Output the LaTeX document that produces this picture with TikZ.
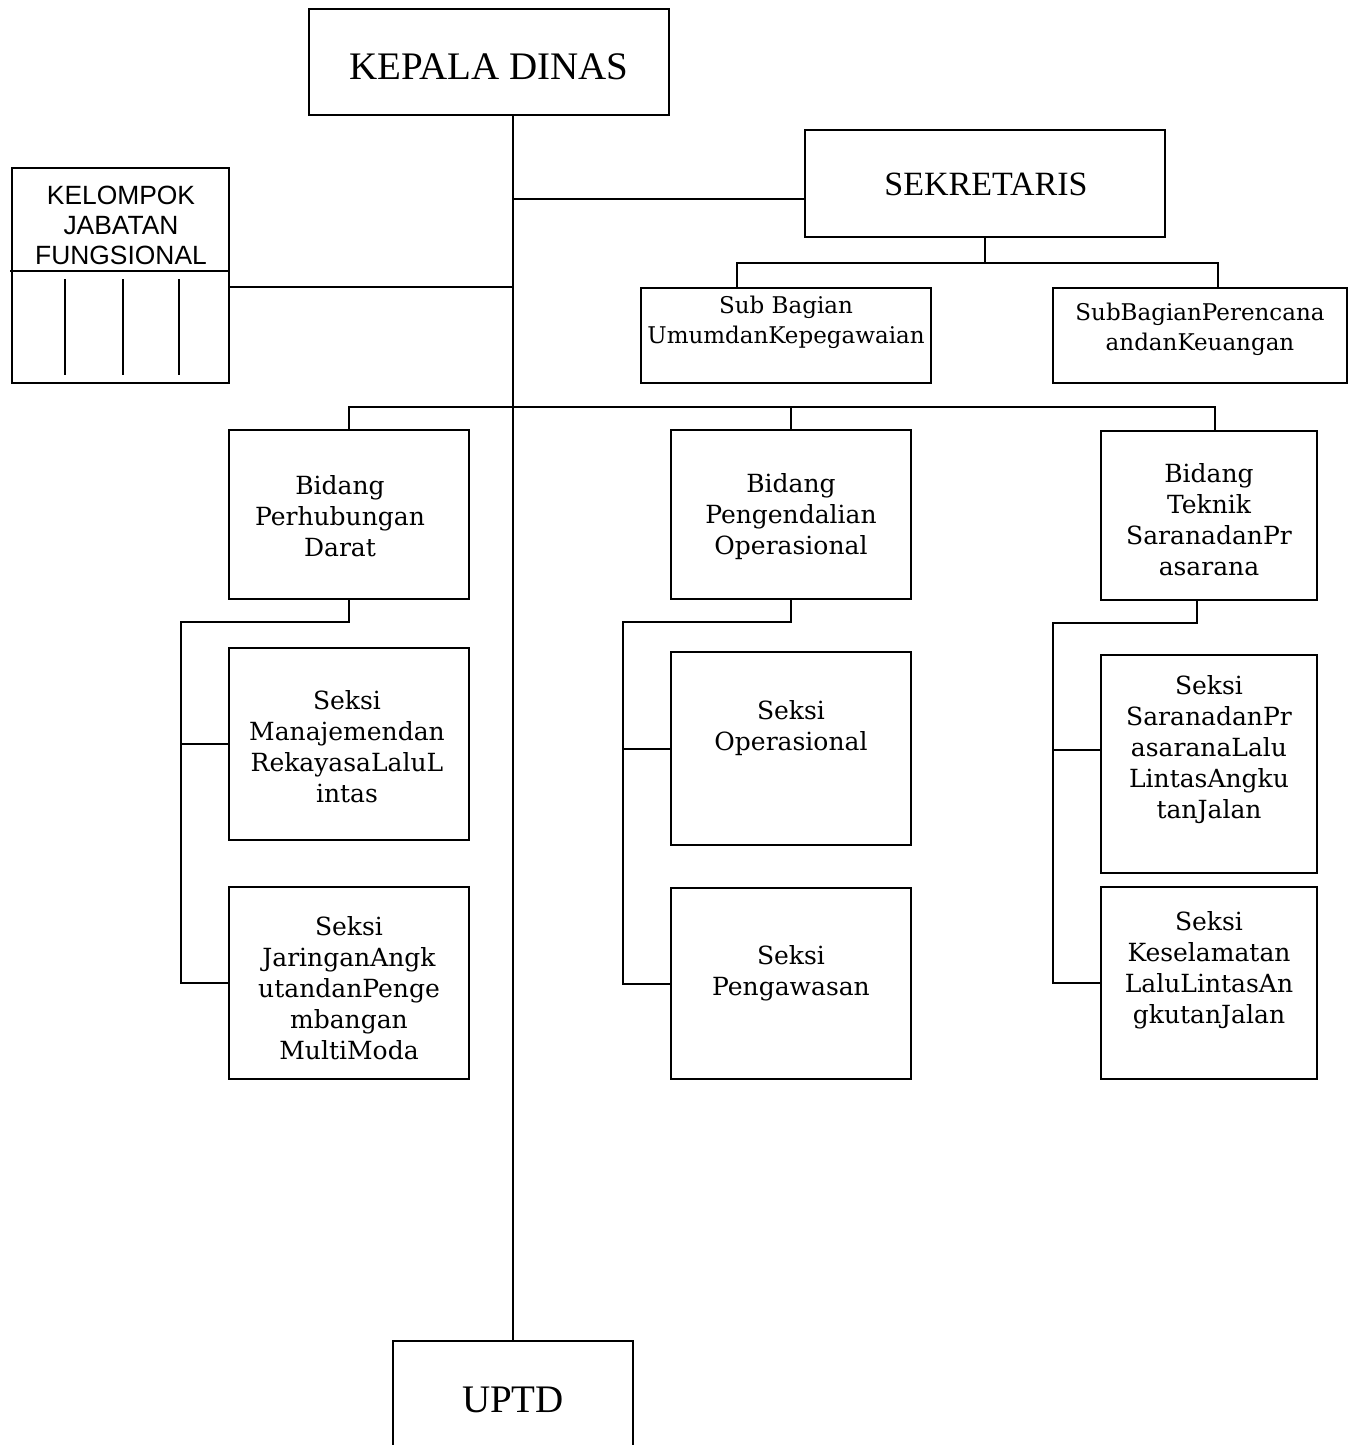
\documentclass[tikz,border=0pt]{standalone}
\usepackage{fontspec}
\setmainfont{DejaVu Serif}
\newfontfamily\timesfont{Liberation Serif}
\newfontfamily\arialfont{Liberation Sans}
\usetikzlibrary{calc}

\begin{document}
\begin{tikzpicture}[x=0.5pt, y=-0.5pt, line width=1pt,
    kotak/.style={draw, inner sep=0pt, outer sep=0pt},
    teks/.style={align=center, inner sep=0pt, font=\fontsize{12.5}{15.5}\selectfont},
    teksk/.style={align=center, inner sep=0pt, font=\fontsize{11.5}{15}\selectfont},
    teksA/.style={align=center, inner sep=0pt, font=\arialfont\fontsize{13.2}{15}\selectfont},
    judul/.style={inner sep=0pt, font=\timesfont\fontsize{19.5}{22}\selectfont}]
        \useasboundingbox (0,0) rectangle (1359,1445);
        % kotak
        \node[kotak, minimum width=180pt, minimum height=53pt](KD)at(489,62){};
        \node[kotak, minimum width=180pt, minimum height=53.5pt](SEK)at(985,183.5){};
        \node[kotak, minimum width=108.5pt, minimum height=107.5pt](KJF)at(120.5,275.5){};
        \node[kotak, minimum width=145pt, minimum height=47.5pt](SB1)at(786,335.5){};
        \node[kotak, minimum width=147pt, minimum height=47.5pt](SB2)at(1200,335.5){};
        \node[kotak, minimum width=120pt, minimum height=84.5pt](B1)at(349,514.5){};
        \node[kotak, minimum width=120pt, minimum height=84.5pt](B2)at(791,514.5){};
        \node[kotak, minimum width=108pt, minimum height=84.5pt](B3)at(1209,515.5){};
        \node[kotak, minimum width=120pt, minimum height=96pt](S11)at(349,744){};
        \node[kotak, minimum width=120pt, minimum height=96pt](S12)at(349,983){};
        \node[kotak, minimum width=120pt, minimum height=96.5pt](S21)at(791,748.5){};
        \node[kotak, minimum width=120pt, minimum height=95.5pt](S22)at(791,983.5){};
        \node[kotak, minimum width=108pt, minimum height=109pt](S31)at(1209,764){};
        \node[kotak, minimum width=108pt, minimum height=96pt](S32)at(1209,983){};
        \node[kotak, minimum width=120pt, minimum height=100pt](UPTD)at(513,1441){};
        % teks
        \node[judul](KDt)at(489,67){KEPALA DINAS};
        \node[judul, font=\timesfont\fontsize{17}{20}\selectfont](SEKt)at(986,184){SEKRETARIS};
        \node[judul](UPTDt)at(513,1400){UPTD};
        \node[teksA](KJFt)at(121,225){KELOMPOK\\JABATAN\\FUNGSIONAL};
        \node[teksk](SB1t)at(786,322){Sub Bagian\\UmumdanKepegawaian};
        \node[teksk](SB2t)at(1200,329){SubBagianPerencana\\andanKeuangan};
        \node[teks](B1t)at(340,516){Bidang\\Perhubungan\\Darat};
        \node[teks](B2t)at(791,517){Bidang\\Pengendalian\\Operasional};
        \node[teks](B3t)at(1209,520){Bidang\\Teknik\\SaranadanPr\\asarana};
        \node[teks](S11t)at(347,747){Seksi\\Manajemendan\\RekayasaLaluL\\intas};
        \node[teks](S12t)at(349,988){Seksi\\JaringanAngk\\utandanPenge\\mbangan\\MultiModa};
        \node[teks](S21t)at(791,728){Seksi\\Operasional};
        \node[teks](S22t)at(791,973){Seksi\\Pengawasan};
        \node[teks](S31t)at(1209,750){Seksi\\SaranadanPr\\asaranaLalu\\LintasAngku\\tanJalan};
        \node[teks](S32t)at(1209,970){Seksi\\Keselamatan\\LaluLintasAn\\gkutanJalan};
        % jabatan fungsional
        \path[draw](10,271)to(KJF.east |- 0,271);
        \foreach \x in {65,123,179}
            \path[draw](\x,279)to(\x,375);
        % garis utama
        \path[draw](UPTD.north |- KD.south)to(UPTD.north);
        \coordinate(SEKw)at(805,199);
        \coordinate(KJFe)at(229,287);
        \path[draw](UPTD.north |- SEKw)to(SEKw);
        \path[draw](KJFe)to(UPTD.north |- KJFe);
        % sub bagian
        \coordinate(SB1n)at(737,288);
        \coordinate(SB2n)at(1218,288);
        \path[draw](SEK.south)to ++(0,26);
        \path[draw](SB1n)to ++(0,-25) -| (SB2n);
        % bidang
        \coordinate(B3n)at(1215,430);
        \path[draw](B1.north)to ++(0,-23) -| (B3n);
        \path[draw](B2.north)to ++(0,-23);
        % seksi
        \coordinate(B3s)at(1197,600);
        \path[draw](B1.south)to ++(0,23) -| ($(S12.west)+(-48,0)$) to (S12.west);
        \path[draw](S11.west)to ++(-48,0);
        \path[draw](B2.south)to ++(0,23) -| ($(S22.west)+(-48,0)$) to (S22.west);
        \path[draw](S21.west)to ++(-48,0);
        \path[draw](B3s)to ++(0,23) -| ($(S32.west)+(-48,0)$) to (S32.west);
        \path[draw]($(S31.west)+(0,-14)$)to ++(-48,0);
\end{tikzpicture}
\end{document}
